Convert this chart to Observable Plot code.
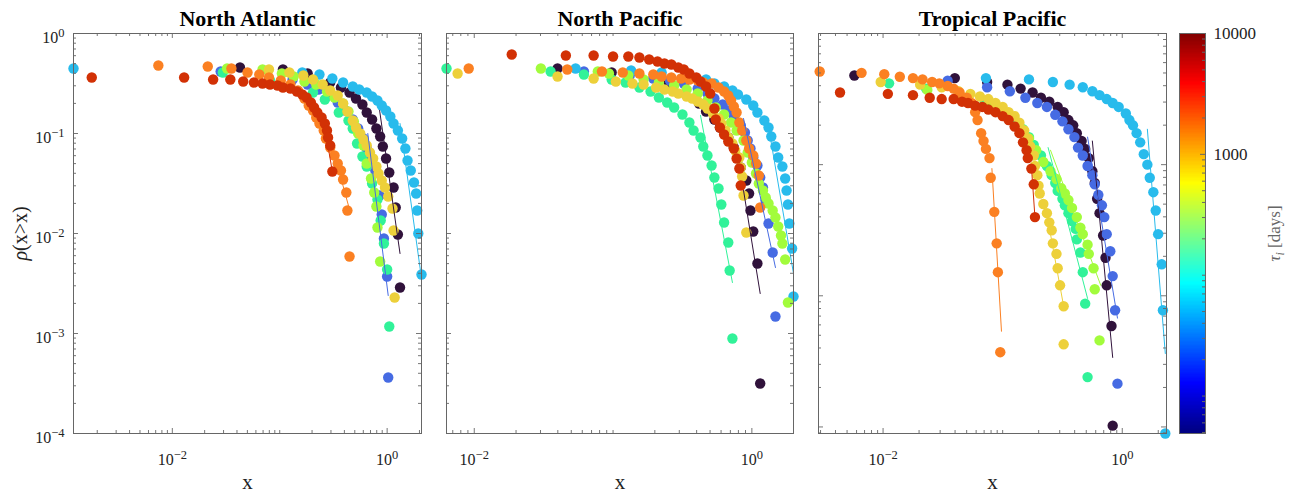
<!DOCTYPE html>
<html><head><meta charset="utf-8">
<script src="https://cdn.jsdelivr.net/npm/d3@7"></script>
<script src="https://cdn.jsdelivr.net/npm/@observablehq/plot@0.6"></script>
<style>
body{margin:0;background:#fff;}
#wrap{position:relative;width:1294px;height:495px;overflow:hidden;background:#fff;}
#wrap svg{position:absolute;top:0;}
</style></head><body><div id="wrap"></div>
<script>
// All point values are stored as log10(x) and log10(y).
// Series order: 0 dark, 1 blue, 2 sky, 3 sea-green, 4 light-green, 5 yellow, 6 orange, 7 red
const seriesNames = ["s1","s2","s3","s4","s5","s6","s7","s8"];
const seriesColors = ["#30123b","#466be3","#28bbec","#31f299","#a2fc3c","#edd03a","#fb8022","#d23105"];

// ---------- North Atlantic ----------
const naX0 = [-1.37,-0.97,-0.74,-0.53,-0.43,-0.35,-0.29,-0.23,-0.19,-0.14,-0.10,-0.065,-0.04,-0.01,0.02,0.06,0.08,0.10,0.12];
const naY0 = [-0.34,-0.36,-0.40,-0.49,-0.54,-0.59,-0.65,-0.71,-0.79,-0.86,-0.95,-1.03,-1.13,-1.25,-1.39,-1.54,-1.74,-2.01,-2.54];
const naX1 = [-1.55,-0.88,-0.74,-0.64,-0.55,-0.46,-0.39,-0.32,-0.27,-0.22,-0.19,-0.15,-0.11,-0.07,-0.05,-0.03,0.00,0.01];
const naY1 = [-0.38,-0.46,-0.51,-0.56,-0.62,-0.69,-0.77,-0.86,-0.95,-1.05,-1.15,-1.26,-1.37,-1.62,-1.81,-2.05,-2.43,-3.44];
const naX2 = [-2.92,-0.79,-0.63,-0.51,-0.41,-0.32,-0.26,-0.19,-0.14,-0.09,-0.05,-0.01,0.03,0.06,0.10,0.14,0.17,0.19,0.22,0.25,0.27,0.28,0.29,0.32];
const naY2 = [-0.35,-0.39,-0.41,-0.45,-0.49,-0.53,-0.56,-0.59,-0.63,-0.67,-0.72,-0.77,-0.83,-0.90,-0.97,-1.05,-1.15,-1.27,-1.37,-1.49,-1.60,-1.77,-2.00,-2.41];
const naX3 = [-1.53,-1.09,-0.69,-0.58,-0.45,-0.36,-0.32,-0.28,-0.23,-0.19,-0.14,-0.09,-0.06,-0.03,0.00,0.02];
const naY3 = [-0.39,-0.47,-0.59,-0.66,-0.79,-0.87,-0.95,-1.10,-1.23,-1.33,-1.50,-1.66,-1.87,-2.10,-2.36,-2.93];
const naX4 = [-1.49,-1.16,-0.98,-0.87,-0.77,-0.66,-0.56,-0.49,-0.41,-0.36,-0.31,-0.27,-0.22,-0.19,-0.15,-0.12,-0.10,-0.09,-0.065];
const naY4 = [-0.35,-0.36,-0.40,-0.43,-0.48,-0.51,-0.58,-0.64,-0.70,-0.78,-0.88,-1.00,-1.12,-1.30,-1.45,-1.59,-1.73,-1.94,-2.28];
const naX5 = [-1.10,-0.91,-0.78,-0.69,-0.60,-0.53,-0.46,-0.41,-0.37,-0.32,-0.29,-0.25,-0.22,-0.19,-0.16,-0.13,-0.10,-0.08,-0.05,-0.02,0.01,0.05,0.06,0.07];
const naY5 = [-0.36,-0.39,-0.42,-0.46,-0.51,-0.57,-0.62,-0.70,-0.78,-0.87,-0.94,-1.00,-1.06,-1.12,-1.19,-1.25,-1.33,-1.40,-1.47,-1.54,-1.63,-1.75,-1.97,-2.64];
const naX6 = [-2.13,-1.67,-1.45,-1.30,-1.19,-1.10,-0.99,-0.90,-0.83,-0.77,-0.73,-0.69,-0.66,-0.63,-0.59,-0.57,-0.53,-0.49,-0.46,-0.43,-0.41,-0.38,-0.37,-0.35];
const naY6 = [-0.32,-0.33,-0.35,-0.39,-0.41,-0.44,-0.47,-0.51,-0.57,-0.65,-0.72,-0.77,-0.84,-0.90,-0.97,-1.05,-1.14,-1.22,-1.30,-1.37,-1.46,-1.59,-1.77,-2.23];
const naX7 = [-2.75,-1.89,-1.62,-1.46,-1.34,-1.24,-1.16,-1.09,-1.02,-0.97,-0.90,-0.84,-0.79,-0.75,-0.71,-0.68,-0.65,-0.61,-0.58,-0.56,-0.55,-0.53,-0.51];
const naY7 = [-0.44,-0.44,-0.46,-0.46,-0.48,-0.49,-0.50,-0.51,-0.52,-0.54,-0.55,-0.58,-0.61,-0.64,-0.69,-0.74,-0.79,-0.84,-0.90,-0.97,-1.04,-1.12,-1.38];
const naFits = [
  {s:0, x:[-0.07,0.12], y:[-0.77,-2.20]},
  {s:1, x:[-0.18,0.01], y:[-1.00,-2.62]},
  {s:2, x:[0.12,0.31], y:[-0.90,-2.37]},
  {s:6, x:[-0.50,-0.34], y:[-1.17,-1.80]},
  {s:7, x:[-0.60,-0.51], y:[-0.82,-1.38]}
];

// ---------- North Pacific ----------
const npX0 = [-1.40,-1.01,-0.60,-0.38,-0.33,-0.27,-0.23,-0.17,-0.13,-0.10,-0.08,-0.04,-0.02,-0.01,0.01,0.04,0.06];
const npY0 = [-0.35,-0.39,-0.49,-0.70,-0.78,-0.86,-0.94,-1.04,-1.14,-1.24,-1.34,-1.47,-1.60,-1.77,-1.98,-2.30,-3.50];
const npX1 = [-1.21,-0.88,-0.71,-0.59,-0.49,-0.39,-0.32,-0.27,-0.21,-0.17,-0.13,-0.08,-0.05,-0.03,-0.01,0.01,0.04,0.06,0.08,0.10,0.12,0.15,0.17];
const npY1 = [-0.38,-0.42,-0.45,-0.47,-0.50,-0.55,-0.60,-0.65,-0.71,-0.77,-0.83,-0.92,-0.99,-1.07,-1.15,-1.24,-1.32,-1.44,-1.54,-1.67,-1.90,-2.19,-2.83];
const npX2 = [-1.27,-0.87,-0.65,-0.44,-0.33,-0.27,-0.20,-0.14,-0.10,-0.04,0.01,0.04,0.09,0.12,0.14,0.17,0.19,0.22,0.24,0.25,0.26,0.27,0.29,0.30];
const npY2 = [-0.35,-0.37,-0.39,-0.43,-0.46,-0.50,-0.53,-0.57,-0.61,-0.66,-0.72,-0.79,-0.87,-0.94,-1.03,-1.13,-1.24,-1.33,-1.45,-1.57,-1.71,-1.90,-2.15,-2.63];
const npX3 = [-2.20,-1.45,-1.21,-1.01,-0.91,-0.81,-0.73,-0.67,-0.61,-0.56,-0.50,-0.45,-0.42,-0.37,-0.35,-0.32,-0.29,-0.27,-0.24,-0.22,-0.20,-0.17,-0.16,-0.14];
const npY3 = [-0.35,-0.38,-0.41,-0.46,-0.49,-0.54,-0.58,-0.64,-0.69,-0.74,-0.81,-0.89,-0.97,-1.04,-1.13,-1.22,-1.32,-1.44,-1.55,-1.71,-1.89,-2.09,-2.37,-3.05];
const npX4 = [-1.52,-1.11,-1.03,-0.89,-0.78,-0.67,-0.56,-0.47,-0.39,-0.32,-0.26,-0.20,-0.15,-0.11,-0.06,-0.03,0.00,0.03,0.05,0.08,0.10,0.12,0.15,0.17,0.19,0.21,0.22,0.24,0.26];
const npY4 = [-0.35,-0.38,-0.40,-0.42,-0.46,-0.49,-0.52,-0.56,-0.60,-0.67,-0.74,-0.81,-0.89,-0.97,-1.07,-1.19,-1.29,-1.40,-1.50,-1.57,-1.64,-1.70,-1.77,-1.84,-1.93,-2.02,-2.10,-2.26,-2.69];
const npX5 = [-2.12,-1.40,-1.14,-0.98,-0.86,-0.78,-0.69,-0.63,-0.57,-0.53,-0.47,-0.43,-0.39,-0.35,-0.32,-0.28,-0.24,-0.22,-0.19,-0.17,-0.14,-0.12,-0.09,-0.08,-0.07,-0.06,-0.04];
const npY5 = [-0.40,-0.43,-0.45,-0.48,-0.50,-0.51,-0.54,-0.56,-0.58,-0.60,-0.63,-0.65,-0.68,-0.71,-0.75,-0.80,-0.85,-0.90,-0.97,-1.04,-1.10,-1.17,-1.24,-1.34,-1.43,-1.62,-1.99];
const npX6 = [-2.04,-1.33,-1.08,-0.93,-0.81,-0.71,-0.65,-0.58,-0.51,-0.45,-0.39,-0.35,-0.29,-0.24,-0.20,-0.17,-0.15,-0.13,-0.11,-0.09,-0.07,-0.04,-0.02,0.01,0.03,0.05,0.06];
const npY6 = [-0.35,-0.36,-0.38,-0.39,-0.40,-0.41,-0.43,-0.44,-0.45,-0.46,-0.47,-0.49,-0.50,-0.54,-0.58,-0.62,-0.67,-0.73,-0.79,-0.89,-0.97,-1.07,-1.15,-1.22,-1.30,-1.42,-1.74];
const npX7 = [-1.73,-1.34,-1.14,-1.00,-0.89,-0.81,-0.74,-0.68,-0.63,-0.58,-0.53,-0.49,-0.45,-0.40,-0.37,-0.33,-0.30,-0.27,-0.26,-0.23,-0.20,-0.17,-0.13,-0.11,-0.09,-0.08];
const npY7 = [-0.21,-0.22,-0.22,-0.23,-0.23,-0.24,-0.26,-0.28,-0.30,-0.31,-0.34,-0.36,-0.40,-0.44,-0.48,-0.53,-0.60,-0.75,-0.86,-0.94,-1.01,-1.08,-1.15,-1.25,-1.35,-1.52];
const npFits = [
  {s:3, x:[-0.37,-0.14], y:[-0.82,-2.49]},
  {s:0, x:[-0.06,0.06], y:[-1.57,-2.60]},
  {s:1, x:[-0.06,0.17], y:[-0.85,-2.34]},
  {s:2, x:[0.11,0.30], y:[-0.85,-2.40]}
];

// ---------- Tropical Pacific ----------
const tpX0 = [-2.24,-1.40,-1.13,-0.96,-0.85,-0.75,-0.68,-0.61,-0.54,-0.49,-0.45,-0.41,-0.38,-0.34,-0.31,-0.28,-0.25,-0.23,-0.21,-0.19,-0.16,-0.14,-0.13,-0.09,-0.08];
const tpY0 = [-0.32,-0.34,-0.37,-0.39,-0.42,-0.45,-0.49,-0.52,-0.56,-0.60,-0.66,-0.70,-0.76,-0.82,-0.88,-0.95,-1.05,-1.14,-1.26,-1.37,-1.54,-1.71,-1.92,-2.23,-2.99];
const tpX1 = [-1.46,-1.13,-0.94,-0.81,-0.71,-0.63,-0.56,-0.50,-0.45,-0.40,-0.37,-0.33,-0.29,-0.25,-0.23,-0.20,-0.17,-0.15,-0.13,-0.10,-0.08,-0.06,-0.04];
const tpY1 = [-0.36,-0.41,-0.44,-0.49,-0.53,-0.56,-0.62,-0.67,-0.73,-0.79,-0.87,-0.93,-1.01,-1.08,-1.15,-1.23,-1.31,-1.40,-1.53,-1.66,-1.85,-2.11,-2.67];
const tpX2 = [-1.14,-0.78,-0.58,-0.44,-0.33,-0.25,-0.19,-0.13,-0.08,-0.03,0.03,0.06,0.09,0.12,0.15,0.18,0.21,0.23,0.26,0.28,0.30,0.33,0.34,0.36];
const tpY2 = [-0.34,-0.35,-0.37,-0.39,-0.41,-0.44,-0.47,-0.50,-0.53,-0.56,-0.61,-0.66,-0.70,-0.76,-0.83,-0.92,-1.00,-1.10,-1.21,-1.35,-1.53,-1.76,-2.11,-3.05];
const tpX3 = [-1.95,-1.64,-1.36,-1.15,-1.02,-0.94,-0.88,-0.83,-0.78,-0.74,-0.68,-0.63,-0.59,-0.56,-0.54,-0.50,-0.48,-0.45,-0.42,-0.39,-0.38,-0.35,-0.33,-0.31,-0.29];
const tpY3 = [-0.38,-0.42,-0.47,-0.53,-0.59,-0.63,-0.68,-0.73,-0.79,-0.85,-0.93,-1.01,-1.08,-1.14,-1.20,-1.26,-1.31,-1.37,-1.43,-1.49,-1.57,-1.67,-1.82,-2.06,-2.62];
const tpX4 = [-1.63,-1.36,-1.10,-0.94,-0.84,-0.78,-0.72,-0.66,-0.60,-0.55,-0.51,-0.48,-0.45,-0.42,-0.38,-0.35,-0.33,-0.29,-0.28,-0.24,-0.23,-0.19];
const tpY4 = [-0.43,-0.47,-0.55,-0.63,-0.73,-0.80,-0.89,-0.98,-1.05,-1.11,-1.18,-1.22,-1.27,-1.33,-1.40,-1.48,-1.53,-1.61,-1.68,-1.79,-1.95,-2.34];
const tpX5 = [-2.02,-1.69,-1.51,-1.37,-1.27,-1.19,-1.12,-1.06,-1.00,-0.95,-0.90,-0.86,-0.82,-0.79,-0.77,-0.74,-0.73,-0.71,-0.70,-0.69,-0.66,-0.63,-0.61,-0.59,-0.58,-0.55,-0.54,-0.52,-0.49,-0.49];
const tpY5 = [-0.37,-0.39,-0.41,-0.44,-0.46,-0.48,-0.50,-0.53,-0.56,-0.60,-0.63,-0.68,-0.74,-0.80,-0.86,-0.93,-1.01,-1.08,-1.16,-1.22,-1.30,-1.37,-1.44,-1.50,-1.60,-1.68,-1.79,-1.92,-2.08,-2.37];
const tpX6 = [-2.53,-2.18,-1.99,-1.86,-1.75,-1.67,-1.59,-1.53,-1.46,-1.41,-1.36,-1.30,-1.26,-1.23,-1.21,-1.18,-1.16,-1.14,-1.11,-1.10,-1.07,-1.05,-1.04,-1.02];
const tpY6 = [-0.29,-0.30,-0.31,-0.33,-0.34,-0.35,-0.37,-0.38,-0.40,-0.42,-0.45,-0.49,-0.53,-0.60,-0.66,-0.76,-0.82,-0.88,-0.95,-1.10,-1.36,-1.60,-1.82,-2.43];
const tpX7 = [-2.36,-1.96,-1.75,-1.61,-1.51,-1.41,-1.34,-1.29,-1.23,-1.17,-1.12,-1.06,-1.00,-0.95,-0.90,-0.86,-0.83,-0.80,-0.79,-0.76,-0.74,-0.73];
const tpY7 = [-0.45,-0.46,-0.47,-0.49,-0.50,-0.50,-0.52,-0.53,-0.55,-0.56,-0.58,-0.60,-0.63,-0.66,-0.71,-0.76,-0.83,-0.89,-0.95,-1.03,-1.15,-1.40];
const tpFits = [
  {s:6, x:[-1.09,-1.01], y:[-1.03,-2.27]},
  {s:7, x:[-0.76,-0.73], y:[-1.01,-1.40]},
  {s:5, x:[-0.62,-0.49], y:[-1.43,-2.08]},
  {s:3, x:[-0.62,-0.29], y:[-0.87,-2.02]},
  {s:4, x:[-0.60,-0.18], y:[-0.89,-1.92]},
  {s:0, x:[-0.25,-0.08], y:[-0.82,-2.47]},
  {s:1, x:[-0.29,-0.04], y:[-0.79,-2.17]},
  {s:2, x:[0.21,0.36], y:[-0.73,-2.44]}
];

// axis ticks and labels
const xTickValues = [0.01, 1];
const xTickLabels = ["10^\u22122", "10^0"];
const yTickValues = [1, 0.1, 0.01, 0.001, 0.0001];
const yTickLabels = ["10^0", "10^\u22121", "10^\u22122", "10^\u22123", "10^\u22124"];
const cbTickValues = [10000, 1000];
const cbTickLabels = ["10000", "1000"];
const cbDomain = [4.9, 10000];

const serif = '"Liberation Serif","Times New Roman",serif';
const axisColor = "#666";
const wrap = document.getElementById("wrap");

function minorTicks([lo, hi], majors) {
  const out = [];
  for (let e = Math.floor(Math.log10(lo)) - 1; e <= Math.ceil(Math.log10(hi)); e++)
    for (let k = 1; k < 10; k++) {
      const v = k * 10 ** e;
      if (v >= lo && v <= hi && !majors.some(m => Math.abs(m - v) / m < 1e-9)) out.push(v);
    }
  return out;
}

function supify(svg) {
  svg.querySelectorAll("text").forEach(t => {
    const s = t.textContent;
    if (s.includes("^")) {
      const [base, sup] = s.split("^");
      t.textContent = base;
      const ts = document.createElementNS("http://www.w3.org/2000/svg", "tspan");
      ts.setAttribute("dy", "-0.45em");
      ts.setAttribute("font-size", "0.78em");
      ts.textContent = sup;
      t.appendChild(ts);
    }
  });
}

function panel({title, xs, ys, fits, xLog, yLog, svgLeft, svgWidth, frameLeft, frameRight, showY}) {
  const rows = [];
  xs.forEach((arr, s) => arr.forEach((lx, j) => rows.push({x: 10 ** lx, y: 10 ** ys[s][j], s: seriesNames[s]})));
  const fitRows = [];
  fits.forEach((f, k) => f.x.forEach((lx, j) => fitRows.push({x: 10 ** lx, y: 10 ** f.y[j], s: seriesNames[f.s], k})));
  const xDom = [10 ** xLog[0], 10 ** xLog[1]];
  const yDom = [10 ** yLog[0], 10 ** yLog[1]];
  const yMaj = yTickValues.filter(v => v >= yDom[0] * 0.999 && v <= yDom[1] * 1.001);
  const xMaj = xTickValues;
  const xMin = minorTicks(xDom, xMaj);
  const yMin = minorTicks(yDom, yMaj);
  const H = 400, W = frameRight - frameLeft;
  const tk = {stroke: axisColor, strokeWidth: 0.9};
  const marks = [
    Plot.dot(rows, {x: "x", y: "y", fill: "s", r: 5.2}),
    Plot.line(fitRows, {x: "x", y: "y", stroke: "s", z: "k", strokeWidth: 1}),
    Plot.frame({stroke: axisColor, strokeWidth: 1}),
    Plot.tickX(xMin, {x: d => d, insetTop: H - 3, ...tk}),
    Plot.tickX(xMin, {x: d => d, insetBottom: H - 3, ...tk}),
    Plot.tickX(xMaj, {x: d => d, insetTop: H - 5, ...tk}),
    Plot.tickX(xMaj, {x: d => d, insetBottom: H - 5, ...tk}),
    Plot.tickY(yMin, {y: d => d, insetRight: W - 3, ...tk}),
    Plot.tickY(yMin, {y: d => d, insetLeft: W - 3, ...tk}),
    Plot.tickY(yMaj, {y: d => d, insetRight: W - 5, ...tk}),
    Plot.tickY(yMaj, {y: d => d, insetLeft: W - 5, ...tk}),
    Plot.text(xMaj, {x: d => d, frameAnchor: "bottom", lineAnchor: "middle", dy: 26, text: (d, i) => xTickLabels[i], fontSize: 16, fill: "#222"}),
    Plot.text([title], {frameAnchor: "top", lineAnchor: "middle", textAnchor: "middle", dy: -15, text: d => d, fontSize: 22, fontWeight: "bold", fill: "#000"}),
    Plot.text(["x"], {frameAnchor: "bottom", lineAnchor: "middle", textAnchor: "middle", dy: 49, text: d => d, fontSize: 21, fill: "#222"})
  ];
  if (showY) {
    marks.push(Plot.text(yMaj, {y: d => d, frameAnchor: "left", lineAnchor: "middle", dx: -9, dy: 4, textAnchor: "end",
      text: d => yTickLabels[yTickValues.indexOf(d)], fontSize: 16, fill: "#222"}));
    marks.push(Plot.text(["ρ(x>x)"], {frameAnchor: "left", lineAnchor: "middle", textAnchor: "middle", dx: -53, rotate: -90, text: d => d, fontSize: 20, fill: "#222"}));
  }
  const svg = Plot.plot({
    width: svgWidth, height: 495,
    marginLeft: frameLeft - svgLeft, marginRight: svgLeft + svgWidth - frameRight,
    marginTop: 33, marginBottom: 62,
    x: {type: "log", domain: xDom, axis: null},
    y: {type: "log", domain: yDom, axis: null},
    color: {type: "ordinal", domain: seriesNames, range: seriesColors},
    style: {background: "transparent", fontFamily: serif, overflow: "visible"},
    marks
  });
  supify(svg);
  // italic rho, as in the original TeX label
  svg.querySelectorAll("text").forEach(t => {
    if (t.textContent === "ρ(x>x)") {
      t.textContent = "";
      const a = document.createElementNS("http://www.w3.org/2000/svg", "tspan");
      a.setAttribute("font-style", "italic"); a.textContent = "ρ";
      const b = document.createElementNS("http://www.w3.org/2000/svg", "tspan");
      b.textContent = "(x>x)";
      t.appendChild(a); t.appendChild(b);
    }
  });
  svg.style.left = svgLeft + "px";
  wrap.appendChild(svg);
}

panel({title: "North Atlantic", xs: [naX0,naX1,naX2,naX3,naX4,naX5,naX6,naX7], ys: [naY0,naY1,naY2,naY3,naY4,naY5,naY6,naY7],
  fits: naFits, xLog: [-2.92, 0.32], yLog: [-4, 0], svgLeft: 0, svgWidth: 434, frameLeft: 73, frameRight: 421, showY: true});
panel({title: "North Pacific", xs: [npX0,npX1,npX2,npX3,npX4,npX5,npX6,npX7], ys: [npY0,npY1,npY2,npY3,npY4,npY5,npY6,npY7],
  fits: npFits, xLog: [-2.20, 0.30], yLog: [-4, 0], svgLeft: 434, svgWidth: 372, frameLeft: 446, frameRight: 793, showY: false});
panel({title: "Tropical Pacific", xs: [tpX0,tpX1,tpX2,tpX3,tpX4,tpX5,tpX6,tpX7], ys: [tpY0,tpY1,tpY2,tpY3,tpY4,tpY5,tpY6,tpY7],
  fits: tpFits, xLog: [-2.54, 0.37], yLog: [-3.05, 0], svgLeft: 806, svgWidth: 370, frameLeft: 818, frameRight: 1166, showY: false});

// ---------- colour bar (jet) ----------
const jet = (t) => {
  const c = v => Math.max(0, Math.min(1, v));
  const r = c(1.5 - Math.abs(4 * t - 3)), g = c(1.5 - Math.abs(4 * t - 2)), b = c(1.5 - Math.abs(4 * t - 1));
  return `rgb(${Math.round(r * 255)},${Math.round(g * 255)},${Math.round(b * 255)})`;
};
const nSteps = 300;
const lr = Math.log10(cbDomain[1] / cbDomain[0]);
const cbSteps = d3.range(nSteps).map(i => ({
  lo: cbDomain[0] * 10 ** (lr * i / nSteps),
  hi: cbDomain[0] * 10 ** (lr * (i + 1.02) / nSteps),
  mid: cbDomain[0] * 10 ** (lr * (i + 0.5) / nSteps)
}));
const cbMinor = minorTicks(cbDomain, cbTickValues);
const cb = Plot.plot({
  width: 118, height: 495, marginLeft: 3, marginRight: 89, marginTop: 33, marginBottom: 62,
  x: {domain: [0, 1], axis: null},
  y: {type: "log", domain: cbDomain, axis: null},
  color: {type: "log", domain: cbDomain, interpolate: jet},
  style: {background: "transparent", fontFamily: serif, overflow: "visible"},
  marks: [
    Plot.rect(cbSteps, {x1: 0, x2: 1, y1: "lo", y2: "hi", fill: "mid", shapeRendering: "crispEdges"}),
    Plot.frame({stroke: axisColor}),
    Plot.tickY(cbTickValues, {y: d => d, insetLeft: 21, stroke: axisColor}),
    Plot.tickY(cbMinor, {y: d => d, insetLeft: 23, stroke: axisColor}),
    Plot.text(cbTickValues, {y: d => d, frameAnchor: "right", lineAnchor: "middle", dx: 8, textAnchor: "start", text: (d, i) => cbTickLabels[i], fontSize: 17, fill: "#222"}),
    Plot.text(["τ_i [days]"], {frameAnchor: "right", lineAnchor: "middle", textAnchor: "middle", dx: 69, rotate: -90, text: d => d, fontSize: 17, fill: "#666"})
  ]
});
cb.querySelectorAll("text").forEach(t => {
  const s = t.textContent;
  if (s.includes("_")) {
    const base = s.split("_")[0], rest = s.split("_")[1];
    t.textContent = "";
    const b0 = document.createElementNS("http://www.w3.org/2000/svg", "tspan");
    b0.setAttribute("font-style", "italic"); b0.textContent = base;
    const sub = document.createElementNS("http://www.w3.org/2000/svg", "tspan");
    sub.setAttribute("dy", "0.3em"); sub.setAttribute("font-size", "0.7em"); sub.setAttribute("font-style", "italic"); sub.textContent = rest[0];
    const tail = document.createElementNS("http://www.w3.org/2000/svg", "tspan");
    tail.setAttribute("dy", "-0.21em"); tail.textContent = rest.slice(1);
    t.appendChild(b0); t.appendChild(sub); t.appendChild(tail);
  }
});
cb.style.left = "1176px";
wrap.appendChild(cb);
</script>
</body></html>
